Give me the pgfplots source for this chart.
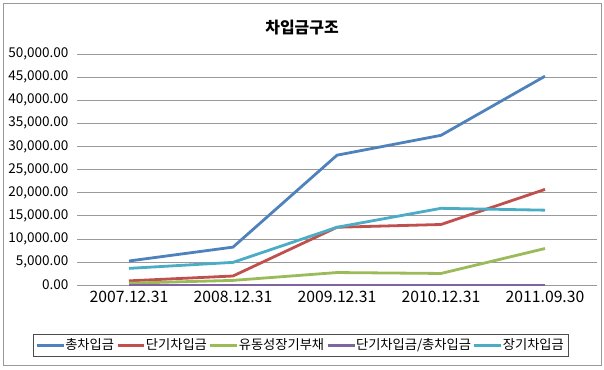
\documentclass[border=0pt]{standalone}
\usepackage{pgfplots}
\pgfplotsset{compat=1.18}
\usepackage{fontspec}
\setmainfont{Noto Sans CJK KR}
\definecolor{c1}{HTML}{4F81BD}
\definecolor{c2}{HTML}{C0504D}
\definecolor{c3}{HTML}{9BBB59}
\definecolor{c4}{HTML}{8064A2}
\definecolor{c5}{HTML}{4BACC6}
\begin{document}
\begin{tikzpicture}[x=1bp,y=1bp]
\useasboundingbox (0,0) rectangle (604,-369);
\draw[gray!80, line width=0.8bp] (3,-3) rectangle (601,-365);
\node[font=\fontsize{16}{18}\selectfont\bfseries] at (302,-28) {차입금구조};
\begin{axis}[
  at={(77bp,-285bp)}, anchor=south west,
  scale only axis, width=520bp, height=231bp,
  xmin=-0.5, xmax=4.5, ymin=0, ymax=50000,
  axis line style={draw=none},
  ytick={0,5000,...,50000},
  ymajorgrids, grid style={gray!80, line width=0.6bp},
  major tick length=0pt,
  xtick={0,1,2,3,4},
  xticklabels={2007.12.31,2008.12.31,2009.12.31,2010.12.31,2011.09.30},
  x tick label style={font=\fontsize{15.8}{18}\selectfont, yshift=-3bp},
  y tick label style={font=\fontsize{13.6}{15}\selectfont, xshift=-5bp},
  scaled y ticks=false,
  yticklabel style={/pgf/number format/.cd, fixed, fixed zerofill, precision=2, 1000 sep={,}, assume math mode=true},
  legend columns=5,
  legend style={at={(0.43,-0.26)}, anchor=center, draw=black!70, font=\fontsize{13.3}{15}\selectfont,
    /tikz/every even column/.append style={column sep=0bp}, inner sep=2.5bp,
    /tikz/every odd column/.append style={column sep=-2bp}},
  legend image code/.code={\draw[#1, line width=3bp] (-0.1cm,0) -- (0.85cm,0);},
  every axis plot/.append style={line width=2.8bp},
]
\addplot[c1] coordinates {(0,5200) (1,8200) (2,28100) (3,32400) (4,45200)};
\addlegendentry{총차입금}
\addplot[c2] coordinates {(0,900) (1,1950) (2,12500) (3,13100) (4,20700)};
\addlegendentry{단기차입금}
\addplot[c3] coordinates {(0,400) (1,1000) (2,2700) (3,2500) (4,7900)};
\addlegendentry{유동성장기부채}
\addplot[c4] coordinates {(0,0) (1,0) (2,0) (3,0) (4,0)};
\addlegendentry{단기차입금/총차입금}
\addplot[c5] coordinates {(0,3600) (1,4900) (2,12500) (3,16600) (4,16200)};
\addlegendentry{장기차입금}
\end{axis}
\end{tikzpicture}
\end{document}
